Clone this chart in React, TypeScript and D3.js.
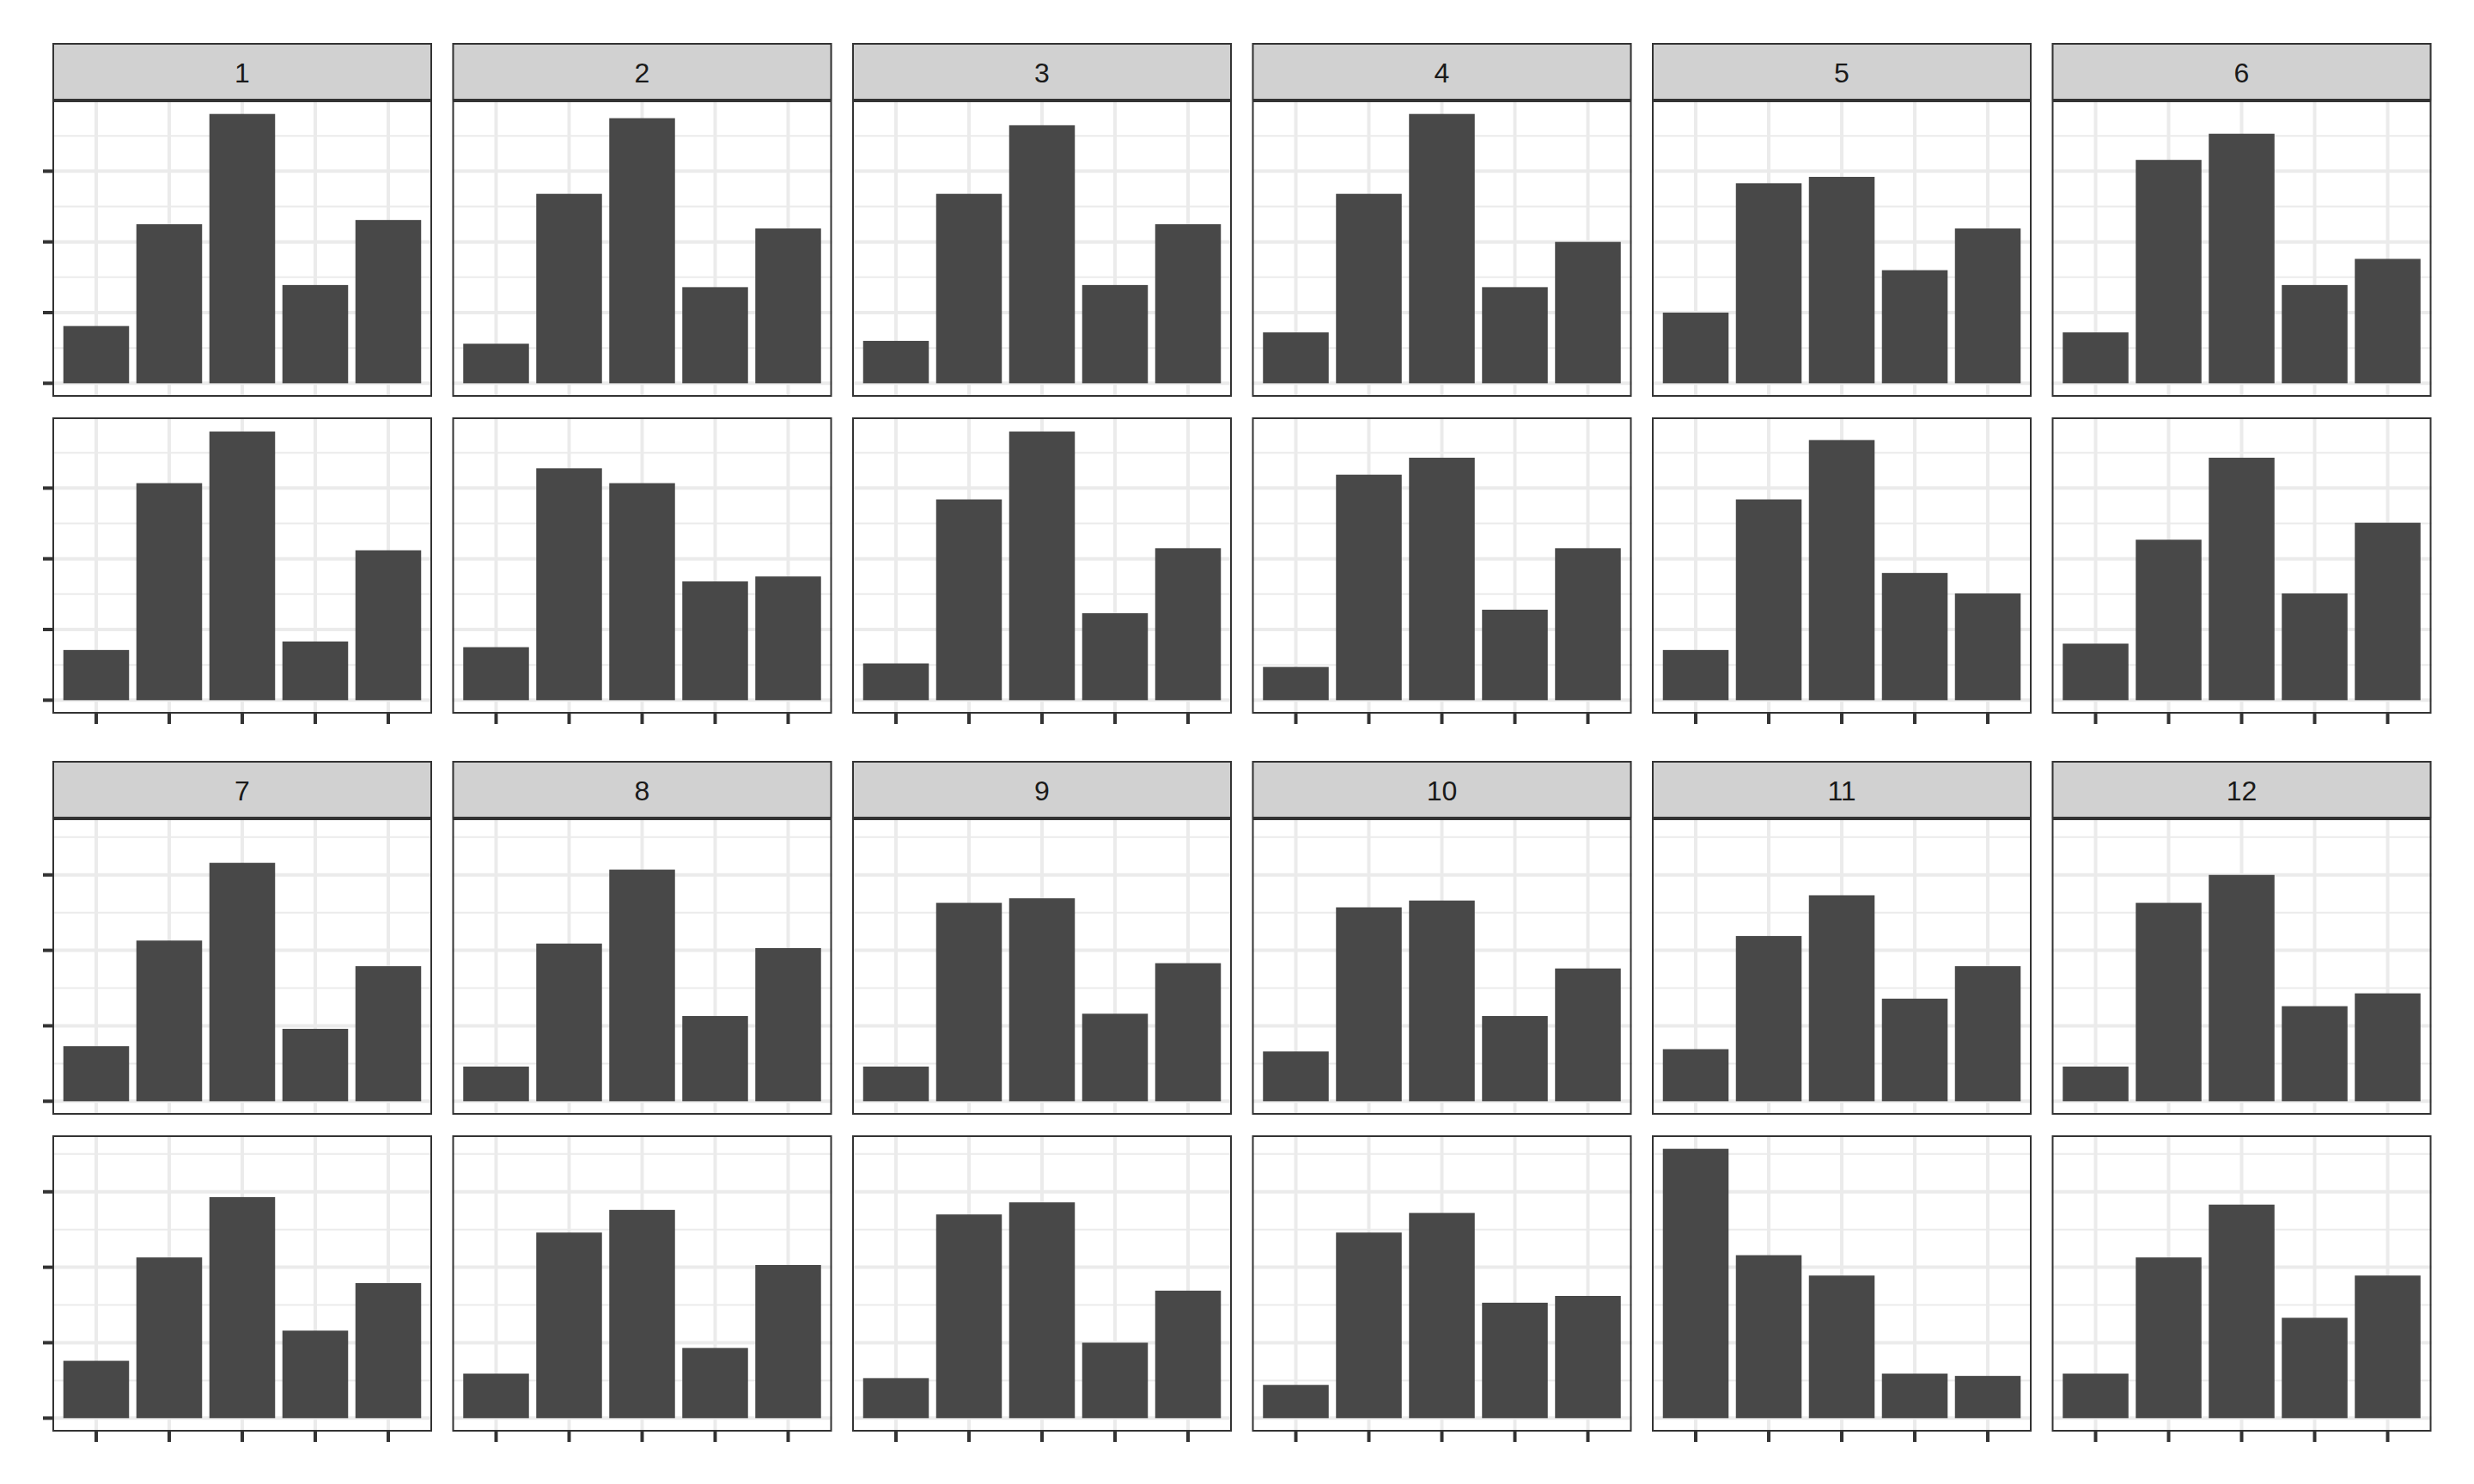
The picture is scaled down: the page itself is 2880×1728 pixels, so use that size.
import React, { useEffect, useRef } from "react";
import * as d3 from "d3";

const months = ["1", "2", "3", "4", "5", "6", "7", "8", "9", "10", "11", "12"];
const categories = ["A", "B", "C", "D", "E"];

// Upper row of each facet column (values in axis-tick units)
const upperValues: number[][] = [
  [0.81, 2.25, 3.81, 1.39, 2.31],
  [0.56, 2.68, 3.75, 1.36, 2.19],
  [0.6, 2.68, 3.65, 1.39, 2.25],
  [0.72, 2.68, 3.81, 1.36, 2.0],
  [1.0, 2.83, 2.92, 1.6, 2.19],
  [0.72, 3.16, 3.53, 1.39, 1.76],
  [0.73, 2.13, 3.16, 0.96, 1.79],
  [0.46, 2.09, 3.07, 1.13, 2.03],
  [0.46, 2.63, 2.69, 1.16, 1.83],
  [0.66, 2.57, 2.66, 1.13, 1.76],
  [0.69, 2.19, 2.73, 1.36, 1.79],
  [0.46, 2.63, 3.0, 1.26, 1.43],
];

// Lower row of each facet column
const lowerValues: number[][] = [
  [0.71, 3.07, 3.8, 0.83, 2.12],
  [0.75, 3.28, 3.07, 1.68, 1.75],
  [0.52, 2.84, 3.8, 1.23, 2.15],
  [0.47, 3.19, 3.43, 1.28, 2.15],
  [0.71, 2.84, 3.68, 1.8, 1.51],
  [0.8, 2.27, 3.43, 1.51, 2.51],
  [0.76, 2.13, 2.93, 1.16, 1.79],
  [0.59, 2.46, 2.76, 0.93, 2.03],
  [0.53, 2.7, 2.86, 1.0, 1.69],
  [0.44, 2.46, 2.72, 1.53, 1.62],
  [3.57, 2.16, 1.89, 0.59, 0.56],
  [0.59, 2.13, 2.83, 1.33, 1.89],
];

const majorTicks = [0, 1, 2, 3];
const minorTicks = [0.5, 1.5, 2.5, 3.5];

const W = 2880;
const H = 1728;

export default function App() {
  const ref = useRef<SVGSVGElement | null>(null);

  useEffect(() => {
    document.body.style.margin = "0";
    const svg = d3.select(ref.current);
    svg.selectAll("*").remove();

    const colLeft = 61;
    const panelW = 442;
    const colGap = 23.5;
    const stripH = 67;
    const panelH = 345;
    const rowGap = 24;
    const blockTops = [50, 886];

    const gridCol = "#EBEBEB";
    const darkCol = "#333333";
    const barCol = "#484848";
    const stripCol = "#D1D1D1";
    const lw = 4;

    blockTops.forEach((blockTop, b) => {
      const idxs = d3.range(b * 6, b * 6 + 6);
      const blockMax = d3.max(
        idxs.flatMap((i) => [...upperValues[i], ...lowerValues[i]])
      ) as number;
      const rows = [upperValues, lowerValues];

      idxs.forEach((mi, c) => {
        const x0 = colLeft + c * (panelW + colGap);
        const x = d3
          .scaleBand<string>()
          .domain(categories)
          .range([x0, x0 + panelW])
          .paddingInner(0.1)
          .paddingOuter(0.15);

        // strip
        const g = svg.append("g");
        g.append("rect")
          .attr("x", x0)
          .attr("y", blockTop)
          .attr("width", panelW)
          .attr("height", stripH)
          .attr("fill", stripCol);
        g.append("rect")
          .attr("x", x0 + lw / 4)
          .attr("y", blockTop + lw / 4)
          .attr("width", panelW - lw / 2)
          .attr("height", stripH - lw / 2)
          .attr("fill", "none")
          .attr("stroke", darkCol)
          .attr("stroke-width", lw / 2);
        g.append("text")
          .attr("x", x0 + panelW / 2)
          .attr("y", blockTop + stripH / 2 + 12)
          .attr("text-anchor", "middle")
          .attr("font-family", "'Liberation Sans', Arial, Helvetica, sans-serif")
          .attr("font-size", 32)
          .attr("fill", "#1A1A1A")
          .text(months[mi]);

        rows.forEach((rowData, r) => {
          const top = blockTop + stripH + r * (panelH + rowGap);
          const bottom = top + panelH;
          const y = d3
            .scaleLinear()
            .domain([-0.05 * blockMax, 1.05 * blockMax])
            .range([bottom, top]);
          const pg = svg.append("g");
          pg.append("rect")
            .attr("x", x0)
            .attr("y", top)
            .attr("width", panelW)
            .attr("height", panelH)
            .attr("fill", "#FFFFFF");
          // minor grid
          pg.selectAll(".minor")
            .data(minorTicks.filter((t) => y(t) > top))
            .join("line")
            .attr("x1", x0)
            .attr("x2", x0 + panelW)
            .attr("y1", (d) => y(d))
            .attr("y2", (d) => y(d))
            .attr("stroke", gridCol)
            .attr("stroke-width", lw / 2);
          // major grid horizontal
          pg.selectAll(".majorY")
            .data(majorTicks)
            .join("line")
            .attr("x1", x0)
            .attr("x2", x0 + panelW)
            .attr("y1", (d) => y(d))
            .attr("y2", (d) => y(d))
            .attr("stroke", gridCol)
            .attr("stroke-width", lw);
          // major grid vertical
          pg.selectAll(".majorX")
            .data(categories)
            .join("line")
            .attr("x1", (d) => (x(d) as number) + x.bandwidth() / 2)
            .attr("x2", (d) => (x(d) as number) + x.bandwidth() / 2)
            .attr("y1", top)
            .attr("y2", bottom)
            .attr("stroke", gridCol)
            .attr("stroke-width", lw);
          // bars
          pg.selectAll(".bar")
            .data(rowData[mi])
            .join("rect")
            .attr("x", (_d, i) => x(categories[i]) as number)
            .attr("width", x.bandwidth())
            .attr("y", (d) => y(d))
            .attr("height", (d) => y(0) - y(d))
            .attr("fill", barCol);
          // border (clipped to panel: inner half only)
          pg.append("rect")
            .attr("x", x0 + lw / 4)
            .attr("y", top + lw / 4)
            .attr("width", panelW - lw / 2)
            .attr("height", panelH - lw / 2)
            .attr("fill", "none")
            .attr("stroke", darkCol)
            .attr("stroke-width", lw / 2);
          // y ticks on first column
          if (c === 0) {
            pg.selectAll(".ytick")
              .data(majorTicks)
              .join("line")
              .attr("x1", x0 - 11)
              .attr("x2", x0)
              .attr("y1", (d) => y(d))
              .attr("y2", (d) => y(d))
              .attr("stroke", darkCol)
              .attr("stroke-width", lw);
          }
          // x ticks on bottom row
          if (r === 1) {
            pg.selectAll(".xtick")
              .data(categories)
              .join("line")
              .attr("x1", (d) => (x(d) as number) + x.bandwidth() / 2)
              .attr("x2", (d) => (x(d) as number) + x.bandwidth() / 2)
              .attr("y1", bottom)
              .attr("y2", bottom + 12)
              .attr("stroke", darkCol)
              .attr("stroke-width", lw);
          }
        });
      });
    });
  }, []);

  return (
    <svg
      ref={ref}
      width={W}
      height={H}
      viewBox={`0 0 ${W} ${H}`}
      style={{ display: "block", background: "#FFFFFF" }}
    />
  );
}
